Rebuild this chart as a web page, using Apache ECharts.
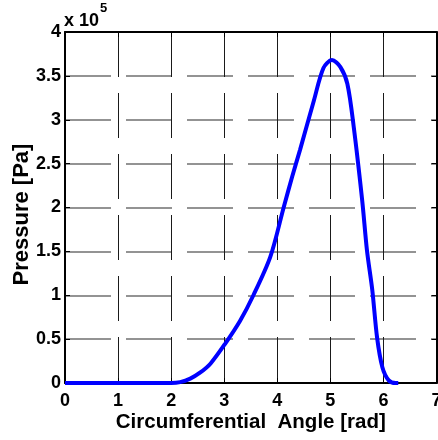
<!DOCTYPE html>
<html>
<head>
<meta charset="utf-8">
<script src="https://cdn.jsdelivr.net/npm/echarts@6/dist/echarts.min.js"></script>
<style>html,body{margin:0;padding:0;background:#fff;}#c{width:438px;height:440px;}</style>
</head>
<body>
<div id="c"></div>
<script>
// Circumferential angle [rad]
var angles = [0, 0.5, 1, 1.5, 2, 2.17, 2.36, 2.55, 2.74, 3.02, 3.30, 3.55, 3.87, 4.12, 4.28, 4.43, 4.69, 4.87, 5.03, 5.19, 5.32, 5.44, 5.60, 5.69, 5.79, 5.88, 5.98, 6.10, 6.23, 6.28];
// Pressure [Pa]
var pressures = [0, 0, 0, 0, 0, 1000, 5000, 12000, 22000, 45000, 71000, 100000, 144000, 200000, 235000, 266000, 322000, 359000, 368000, 360000, 341000, 292000, 208000, 151000, 106000, 52000, 18000, 3000, 0, 0];
var xTicks = {min: 0, max: 7, interval: 1};
var yTicks = {min: 0, max: 400000, interval: 50000};
var xTitle = 'Circumferential  Angle [rad]';
var yTitle = 'Pressure [Pa]';

var pts = angles.map(function (a, i) { return [a, pressures[i]]; });
var font = 'Liberation Sans, Arial, sans-serif';
var chart = echarts.init(document.getElementById('c'));
chart.setOption({
  animation: false,
  backgroundColor: '#fff',
  grid: {left: 65, top: 32, width: 371.5, height: 351, containLabel: false, outerBoundsMode: 'none'},
  xAxis: [{
    type: 'value', min: xTicks.min, max: xTicks.max, interval: xTicks.interval,
    name: xTitle, nameLocation: 'middle', nameGap: 29, nameMoveOverlap: false,
    nameTextStyle: {fontFamily: font, fontWeight: 'bold', fontSize: 20.5, color: '#000'},
    axisLine: {show: true, onZero: false, lineStyle: {color: '#000', width: 2}},
    axisTick: {show: true, inside: true, length: 5, lineStyle: {color: '#000'}},
    axisLabel: {margin: 9, fontFamily: font, fontWeight: 'bold', fontSize: 18, color: '#000'},
    splitLine: {show: true, lineStyle: {color: '#1a1a1a', width: 1, type: [45, 16]}}
  }, {
    type: 'value', position: 'top', min: xTicks.min, max: xTicks.max, interval: xTicks.interval,
    axisLine: {show: true, onZero: false, lineStyle: {color: '#000', width: 2}},
    axisTick: {show: true, inside: true, length: 5, lineStyle: {color: '#000'}},
    axisLabel: {show: false}, splitLine: {show: false}
  }],
  yAxis: [{
    type: 'value', min: yTicks.min, max: yTicks.max, interval: yTicks.interval,
    name: yTitle, nameLocation: 'middle', nameGap: 32, nameMoveOverlap: false,
    nameTextStyle: {fontFamily: font, fontWeight: 'bold', fontSize: 22, color: '#000', padding: [0, 14, 0, 0]},
    axisLine: {show: true, onZero: false, lineStyle: {color: '#000', width: 2}},
    axisTick: {show: true, inside: true, length: 5, lineStyle: {color: '#000'}},
    axisLabel: {margin: 4, fontFamily: font, fontWeight: 'bold', fontSize: 18, color: '#000',
      formatter: function (v) { return String(v / 100000); }},
    splitLine: {show: true, lineStyle: {color: '#707070', width: 1.6, type: [46, 15]}}
  }, {
    type: 'value', position: 'right', min: yTicks.min, max: yTicks.max, interval: yTicks.interval,
    axisLine: {show: true, onZero: false, lineStyle: {color: '#000', width: 2}},
    axisTick: {show: true, inside: true, length: 5, lineStyle: {color: '#000'}},
    axisLabel: {show: false}, splitLine: {show: false}
  }],
  graphic: [
    {type: 'text', left: 64, top: 12, style: {text: 'x 10', font: 'bold 18px Liberation Sans, Arial, sans-serif', fill: '#000'}},
    {type: 'text', left: 100, top: 2, style: {text: '5', font: 'bold 13px Liberation Sans, Arial, sans-serif', fill: '#000'}}
  ],
  series: [{
    type: 'line', data: pts, showSymbol: false, smooth: 0.3,
    lineStyle: {color: '#0000ff', width: 4}, z: 5
  }]
});
</script>
</body>
</html>
